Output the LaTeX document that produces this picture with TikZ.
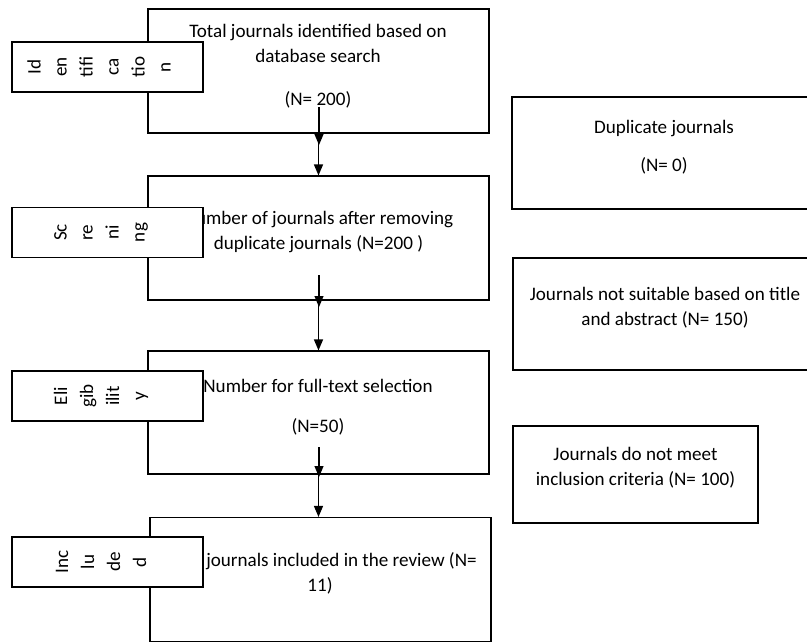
\documentclass[tikz,border=0pt]{standalone}
\usepackage{fontspec}
\setmainfont{Carlito}
\usetikzlibrary{arrows.meta,positioning}

\tikzset{
  mainbox/.style={draw, line width=1.1pt, minimum width=341pt, minimum height=124pt, inner sep=0pt},
  sidebox/.style={draw, line width=1.1pt, inner sep=0pt},
  stagebox/.style={draw, fill=white, line width=1.1pt, minimum width=191pt, minimum height=50pt, inner sep=0pt},
  boxtext/.style={align=center, inner sep=0pt, font=\fontsize{19.1}{25}\selectfont},
  stagetext/.style={boxtext, rotate=90, font=\fontsize{19.1}{26}\selectfont},
  arr/.style={-{Triangle[length=11pt,width=9pt]}, line width=1.2pt},
}

\begin{document}
\begin{tikzpicture}[x=1pt,y=-1pt]
    \fill[white] (0,0) rectangle (807,643);
    \useasboundingbox (0,0) rectangle (807,643);
    \clip (0,0) rectangle (807,643);

    % Main column
    \node[mainbox] (ident) at (318.5,71) {};
    \node[boxtext] (identtxt) at (318,66) {Total journals identified based on\\database search\\[18pt](N= 200)};
    \node[mainbox] (screen) at (318.5,238) {};
    \node[boxtext] (screentxt) at (318.5,232.5) {Number of journals after removing\\duplicate journals (N=200 )};
    \node[mainbox, minimum height=123pt] (elig) at (318.5,412.5) {};
    \node[boxtext] (eligtxt) at (318,407) {Number for full-text selection\\[15pt](N=50)};
    \node[mainbox] (incl) at (320.5,579.5) {};
    \node[boxtext] (incltxt) at (341.5,573.5) {journals included in the review (N=\\11)\hspace*{43pt}};

    % Excluded (right)
    \node[sidebox, minimum width=304pt, minimum height=112pt] (dup) at (664,153) {};
    \node[boxtext] (duptxt) at (664,147) {Duplicate journals\\[13pt](N= 0)};
    \node[sidebox, minimum width=304pt, minimum height=112pt] (notsuit) at (665,314) {};
    \node[boxtext] (notsuittxt) at (665,307.5) {Journals not suitable based on title\\and abstract (N= 150)};
    \node[sidebox, minimum width=245pt, minimum height=97pt] (notmeet) at (635.5,474.5) {};
    \node[boxtext] (notmeettxt) at (635.5,467.5) {Journals do not meet\\inclusion criteria (N= 100)};

    % Stage labels (left)
    \node[stagebox] (idlab) at (107.5,67) {};
    \node[stagetext] (idlabtxt) at (99,67) {Id\\en\\tifi\\ca\\tio\\n};
    \node[stagebox] (sclab) at (107.5,232.5) {};
    \node[stagetext] (sclabtxt) at (101,232.5) {Sc\\re\\ni\\ng};
    \node[stagebox] (ellab) at (107.5,396) {};
    \node[stagetext] (ellabtxt) at (101,396) {Eli\\gib\\ilit\\y};
    \node[stagebox] (inlab) at (107.5,562) {};
    \node[stagetext] (inlabtxt) at (101,562) {Inc\\lu\\de\\d};

    % Arrows
    \coordinate (a1s) at (319,107);
    \coordinate (a1e) at (319,145);
    \coordinate (a2s) at (319,275);
    \coordinate (a2e) at (319,307);
    \coordinate (a3s) at (319,447);
    \coordinate (a3e) at (319,477);
    \draw[arr] (a1s) -- (a1e);
    \draw[arr] (ident.south) -- (screen.north);
    \draw[arr] (a2s) -- (a2e);
    \draw[arr] (screen.south) -- (elig.north);
    \draw[arr] (a3s) -- (a3e);
    \draw[arr] (elig.south) -- (elig.south |- incl.north);
\end{tikzpicture}
\end{document}
